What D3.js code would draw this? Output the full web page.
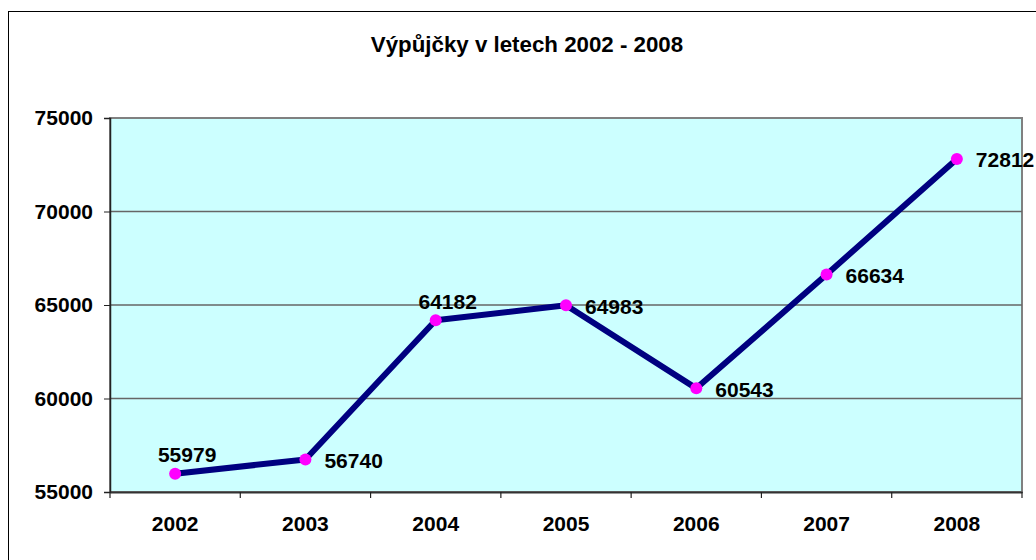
<!DOCTYPE html>
<html>
<head>
<meta charset="utf-8">
<script src="https://cdn.jsdelivr.net/npm/d3@7"></script>
<style>
  body { margin: 0; background: #fff; }
  svg { display: block; font-family: "Liberation Sans", Arial, sans-serif; }
</style>
</head>
<body>
<svg id="chart" width="1036" height="560"></svg>
<script>
const title = "Výpůjčky v letech 2002 - 2008";
const years = ["2002", "2003", "2004", "2005", "2006", "2007", "2008"];
const loans = [55979, 56740, 64182, 64983, 60543, 66634, 72812];
const yTicks = [55000, 60000, 65000, 70000, 75000];
// where each data label sits relative to its point
const labelPos = ["above", "right", "above", "right", "right", "right", "right"];

const width = 1036;
const height = 560;
const margin = { top: 118, right: 14, bottom: 68, left: 110 };

const svg = d3.select("#chart");

// outer chart frame (runs off the right and bottom edges)
svg.append("rect")
  .attr("x", 8.5).attr("y", 11.5)
  .attr("width", width + 10).attr("height", height + 10)
  .attr("fill", "#fff").attr("stroke", "#000").attr("stroke-width", 1);

svg.append("text")
  .attr("x", 527).attr("y", 52)
  .attr("text-anchor", "middle")
  .attr("font-size", 22.3).attr("font-weight", "bold")
  .text(title);

const x = d3.scaleBand()
  .domain(years)
  .range([margin.left, width - margin.right]);

const y = d3.scaleLinear()
  .domain([55000, 75000])
  .range([height - margin.bottom, margin.top]);

const plot = svg.append("g");

plot.append("rect")
  .attr("x", margin.left).attr("y", margin.top)
  .attr("width", width - margin.right - margin.left)
  .attr("height", y(55000) - y(75000))
  .attr("fill", "#ccffff")
  .attr("stroke", "#808080").attr("stroke-width", 2);

// gridlines
plot.selectAll(".grid")
  .data(yTicks.slice(1, -1))
  .join("line")
  .attr("x1", margin.left).attr("x2", width - margin.right)
  .attr("y1", d => y(d)).attr("y2", d => y(d))
  .attr("stroke", "#666").attr("stroke-width", 1.3);

// y axis
const yAxis = svg.append("g")
  .attr("transform", `translate(${margin.left},0)`)
  .call(d3.axisLeft(y).tickValues(yTicks).tickSize(6).tickPadding(11).tickFormat(d3.format("d")));
yAxis.select(".domain").attr("stroke", "#222").attr("stroke-width", 1.5);
yAxis.selectAll(".tick line").attr("stroke", "#222");
yAxis.selectAll("text")
  .attr("font-size", 21).attr("font-weight", "bold").attr("fill", "#000")
  .attr("font-family", "'Liberation Sans', Arial, sans-serif");

// x axis, ticks between categories
const xAxis = svg.append("g")
  .attr("transform", `translate(0,${height - margin.bottom})`)
  .call(d3.axisBottom(x).tickSize(0).tickPadding(24));
xAxis.select(".domain").attr("stroke", "#333").attr("stroke-width", 2);
xAxis.selectAll("text")
  .attr("font-size", 21).attr("font-weight", "bold").attr("fill", "#000")
  .attr("font-family", "'Liberation Sans', Arial, sans-serif");
xAxis.selectAll(".sep")
  .data(years.concat([null]))
  .join("line")
  .attr("x1", (d, i) => margin.left + i * x.step())
  .attr("x2", (d, i) => margin.left + i * x.step())
  .attr("y1", 0).attr("y2", 6)
  .attr("stroke", "#222").attr("stroke-width", 1.2);

const cx = (d, i) => x(years[i]) + x.bandwidth() / 2;

plot.append("path")
  .datum(loans)
  .attr("fill", "none")
  .attr("stroke", "#000080")
  .attr("stroke-width", 6)
  .attr("stroke-linejoin", "round")
  .attr("d", d3.line().x(cx).y(d => y(d)));

plot.selectAll(".dot")
  .data(loans)
  .join("circle")
  .attr("cx", cx)
  .attr("cy", d => y(d))
  .attr("r", 6)
  .attr("fill", "#ff00ff");

plot.selectAll(".label")
  .data(loans)
  .join("text")
  .attr("x", (d, i) => labelPos[i] === "above" ? cx(d, i) + 12 : cx(d, i) + 19)
  .attr("y", (d, i) => labelPos[i] === "above" ? y(d) - 19 : y(d) + 1)
  .attr("dy", "0.36em")
  .attr("text-anchor", (d, i) => labelPos[i] === "above" ? "middle" : "start")
  .attr("font-size", 21).attr("font-weight", "bold")
  .text(d => d);
</script>
</body>
</html>
